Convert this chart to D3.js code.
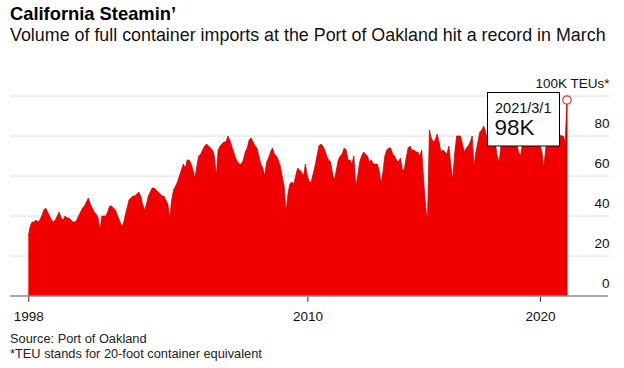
<!DOCTYPE html>
<html>
<head>
<meta charset="utf-8">
<script src="https://cdn.jsdelivr.net/npm/d3@7/dist/d3.min.js"></script>
<style>
  html, body { margin: 0; padding: 0; background: #fff; }
  svg { display: block; font-family: "Liberation Sans", Arial, Helvetica, sans-serif; }
</style>
</head>
<body>
<svg id="chart" width="624" height="368"></svg>
<script>
// ---- Data (monthly full container imports, thousand TEUs) ----
const startYear = 1998;
const startMonth = 0; // January
const teuValues = [
  30,35,37,37,38,37,38,40,43,44,42,40,   // 1998
  38,37,38,40,42,39,38,40,39,39,38,37,   // 1999
  37,38,40,42,44,45,47,49,46,44,42,41,   // 2000
  39,33,40,40,40,42,45,45,44,43,40,38,   // 2001
  35,36,40,44,48,49,50,50,51,52,50,46,   // 2002
  43,46,50,52,54,54,53,52,51,50,50,48,   // 2003
  46,39,48,53,55,57,60,63,66,64,68,68,   // 2004
  66,63,59,65,70,71,73,75,76,75,74,73,   // 2005
  70,60,73,75,76,77,77,80,78,75,72,69,   // 2006
  67,66,66,68,72,74,78,79,77,75,74,70,   // 2007
  66,64,60,67,69,72,74,71,70,68,65,60,   // 2008
  55,42,51,56,57,56,60,64,63,62,60,66,   // 2009
  60,57,57,61,65,70,75,76,75,73,70,68,   // 2010
  67,61,58,63,68,70,71,74,73,68,68,66,   // 2011
  70,55,60,67,70,72,71,70,67,68,66,66,   // 2012
  66,63,56,62,70,73,74,74,71,70,68,67,   // 2013
  69,63,63,69,74,75,73,73,72,72,70,73,   // 2014
  58,45,37,83,79,77,78,81,77,72,73,72,   // 2015
  71,75,66,58,71,80,80,80,76,72,74,75,   // 2016
  77,80,65,72,77,82,83,85,82,77,76,78,   // 2017
  80,76,70,67,76,80,81,82,80,82,80,78,   // 2018
  76,72,70,76,80,82,81,80,82,80,79,78,   // 2019
  76,72,64,74,78,80,81,80,79,80,81,80,   // 2020
  80,77,98                               // 2021 (Jan-Mar)
];
const xTickYears = [1998, 2010, 2020];
const yTickValues = [0, 20, 40, 60, 80, 100];
const yTickLabels = ["0", "20", "40", "60", "80", "100K TEUs*"];
const titleText = "California Steamin\u2019";
const subtitleText = "Volume of full container imports at the Port of Oakland hit a record in March";
const sourceText = "Source: Port of Oakland";
const noteText = "*TEU stands for 20-foot container equivalent";
const highlightLabel = "2021/3/1";
const highlightValue = "98K";

// ---- Build data ----
const data = teuValues.map((v, i) => ({ date: new Date(startYear, startMonth + i, 1), value: v }));
const last = data[data.length - 1];

const svg = d3.select("#chart");

// ---- Scales ----
const x = d3.scaleTime()
  .domain([new Date(1998, 0, 1), new Date(2021, 2, 1)])
  .range([28.3, 567]);
const y = d3.scaleLinear().domain([0, 100]).range([296, 96]);

const gridLeft = 10, gridRight = 610;

// ---- Titles ----
function fitText(sel, target) {
  const node = sel.node();
  const len = node.getComputedTextLength();
  const fs = parseFloat(sel.attr("font-size"));
  sel.attr("font-size", (fs * target / len).toFixed(2));
}
const title = svg.append("text").attr("x", 10).attr("y", 20)
  .attr("font-size", 18).attr("font-weight", "bold").attr("fill", "#000")
  .text(titleText);
fitText(title, 166);
const subtitle = svg.append("text").attr("x", 10).attr("y", 41)
  .attr("font-size", 16.5).attr("fill", "#111")
  .text(subtitleText);
fitText(subtitle, 596);

// ---- Gridlines ----
svg.append("g").selectAll("line").data(yTickValues.filter(d => d > 0)).join("line")
  .attr("x1", gridLeft).attr("x2", gridRight)
  .attr("y1", d => y(d)).attr("y2", d => y(d))
  .attr("stroke", "#dcdcdc").attr("stroke-width", 1);

// ---- Y labels ----
svg.append("g").selectAll("text").data(yTickValues).join("text")
  .attr("x", 609.5).attr("y", d => y(d) - 8.5)
  .attr("text-anchor", "end").attr("font-size", 13.5).attr("fill", "#111")
  .text((d, i) => yTickLabels[i]);

// ---- Area ----
const area = d3.area().x(d => x(d.date)).y0(y(0)).y1(d => y(d.value));
const line = d3.line().x(d => x(d.date)).y(d => y(d.value));
svg.append("path").datum(data).attr("d", area).attr("fill", "#f20000");
svg.append("path").datum(data).attr("d", line).attr("fill", "none")
  .attr("stroke", "#c40000").attr("stroke-width", 0.7);

// ---- Highlight vertical line ----
svg.append("line")
  .attr("x1", x(last.date)).attr("x2", x(last.date))
  .attr("y1", y(last.value) + 4).attr("y2", y(0))
  .attr("stroke", "#a80000").attr("stroke-width", 1);

// ---- Baseline & x axis ----
svg.append("line").attr("x1", gridLeft).attr("x2", 608)
  .attr("y1", y(0)).attr("y2", y(0))
  .attr("stroke", "#8c8c8c").attr("stroke-width", 1.5);
const xAxis = d3.axisBottom(x)
  .tickValues(xTickYears.map(yr => new Date(yr, 0, 1)))
  .tickFormat(d3.timeFormat("%Y"))
  .tickSize(5).tickPadding(10);
const gx = svg.append("g").attr("transform", `translate(0,${y(0) + 0.75})`).call(xAxis);
gx.select(".domain").remove();
gx.selectAll(".tick line").attr("stroke", "#222");
gx.selectAll(".tick text").attr("font-size", 13.5).attr("fill", "#111")
  .attr("font-family", "Liberation Sans, Arial, sans-serif");

// ---- Marker ----
svg.append("circle").attr("cx", x(last.date)).attr("cy", y(last.value)).attr("r", 4.2)
  .attr("fill", "#fff").attr("stroke", "#e03030").attr("stroke-width", 1.2);

// ---- Tooltip box ----
const tip = svg.append("g");
tip.append("rect").attr("x", 487.5).attr("y", 92.5).attr("width", 72).attr("height", 53.5)
  .attr("fill", "#fff").attr("stroke", "#000").attr("stroke-width", 1);
tip.append("text").attr("x", 495).attr("y", 113).attr("font-size", 14.5).attr("fill", "#111")
  .text(highlightLabel);
tip.append("text").attr("x", 494.5).attr("y", 135).attr("font-size", 22.5).attr("fill", "#111")
  .text(highlightValue);

// ---- Footer ----
svg.append("text").attr("x", 10).attr("y", 343).attr("font-size", 12.8).attr("fill", "#222")
  .text(sourceText);
svg.append("text").attr("x", 10).attr("y", 357.5).attr("font-size", 12.8).attr("fill", "#222")
  .text(noteText);
</script>
</body>
</html>
